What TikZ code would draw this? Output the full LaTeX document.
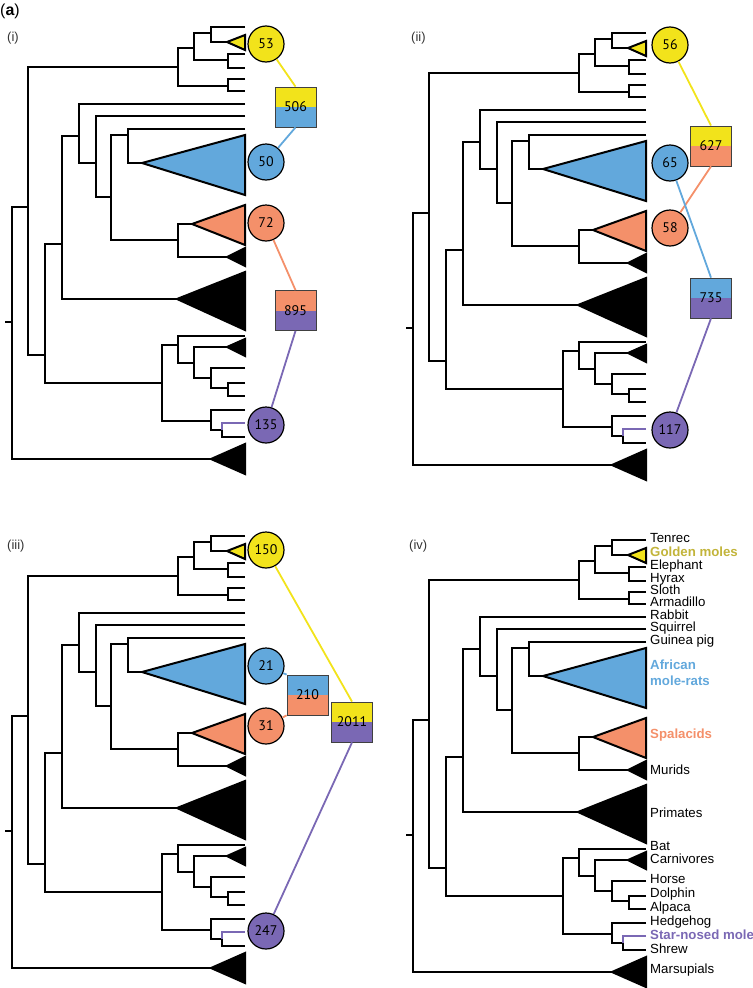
\documentclass[tikz,border=0pt]{standalone}
\usepackage{fontspec}
\setmainfont{Liberation Sans}
\newfontfamily\numfont{PT Sans}
\definecolor{moleyellow}{HTML}{F2E31B}
\definecolor{moleblue}{HTML}{62A8DC}
\definecolor{moleorange}{HTML}{F4906A}
\definecolor{molepurple}{HTML}{7A68B4}
\definecolor{moleolive}{HTML}{C2B43A}

% the same tree is drawn in every panel
\newcommand{\moletree}{%
  % backbone
  \draw[branch] (5,322) -- (12,322);
  \draw[branch] (28,207) -| (12,459) -- (211,459);
  \draw[branch] (178,67) -| (28,355) -- (45,355);
  % afrotheria and xenarthra
  \draw[branch] (194,48) -| (178,86) -- (228,86);
  \draw[branch] (211,33) -| (194,60) -- (228,60);
  \draw[branch] (245,27) -| (211,42) -- (227,42);
  \draw[branch] (245,54) -| (228,68) -- (245,68);
  \draw[branch] (245,79) -| (228,91) -- (245,91);
  % euarchontoglires
  \draw[branch] (62,244) -| (45,383) -- (162,383);
  \draw[branch] (79,136) -| (62,299) -- (177,299);
  \draw[branch] (245,104) -| (79,163) -- (96,163);
  \draw[branch] (245,116) -| (96,197) -- (111,197);
  \draw[branch] (128,135) -| (111,240) -- (178,240);
  \draw[branch] (245,129) -| (128,163) -- (142,163);
  \draw[branch] (192,224) -| (178,257) -- (227,257);
  % laurasiatheria
  \draw[branch] (178,345) -| (162,421) -- (211,421);
  \draw[branch] (245,336) -| (178,363) -- (194,363);
  \draw[branch] (227,347) -| (194,378) -- (211,378);
  \draw[branch] (245,368) -| (211,388) -- (228,388);
  \draw[branch] (245,383) -| (228,396) -- (245,396);
  \draw[branch] (245,410) -| (211,430) -- (222,430);
  \draw[branch] (222,430) |- (245,437);
  \draw[branch, molepurple, line width=1.5bp] (245,423) -| (222,430);
  % collapsed clades
  \draw[clade, fill=moleyellow] (227,42) -- (245,35) -- (245,50) -- cycle;
  \draw[clade, fill=moleblue] (142,163) -- (245,135) -- (245,195) -- cycle;
  \draw[clade, fill=moleorange] (192,224) -- (245,205) -- (245,245) -- cycle;
  \draw[clade, fill=black] (227,257) -- (245,248) -- (245,266) -- cycle;
  \draw[clade, fill=black] (177,299) -- (245,272) -- (245,330) -- cycle;
  \draw[clade, fill=black] (227,347) -- (245,339) -- (245,356) -- cycle;
  \draw[clade, fill=black] (211,459) -- (245,444) -- (245,474) -- cycle;
}

\begin{document}
\begin{tikzpicture}[
    x=1bp, y=-1bp,
    branch/.style={line width=2.2bp},
    clade/.style={line width=2bp, line join=miter},
    num/.style={circle, draw, line width=1.2bp, minimum size=36bp, inner sep=0pt,
                font=\numfont\fontsize{14}{14}\selectfont},
    pair/.style 2 args={draw=black!75, line width=0.8bp, minimum width=41bp,
                minimum height=40bp, inner sep=0pt, font=\numfont\fontsize{14}{14}\selectfont,
                path picture={
                  \fill[#1] (path picture bounding box.north west) rectangle (path picture bounding box.east);
                  \fill[#2] (path picture bounding box.west) rectangle (path picture bounding box.south east);}},
    link/.style={line width=1.8bp},
    tag/.style={anchor=west, inner sep=0pt, text=black!80, font=\fontsize{13}{13}\selectfont},
    tip/.style={anchor=mid west, inner sep=0pt, font=\fontsize{13.3}{16}\selectfont},
    hl/.style={tip, font=\bfseries\fontsize{13.3}{16}\selectfont}
  ]
  \useasboundingbox (0,0) rectangle (753,988);

  \begin{scope}\moletree\end{scope}
  \begin{scope}[shift={(401,6)}]\moletree\end{scope}
  \begin{scope}[shift={(0,509)}]\moletree\end{scope}
  \begin{scope}[shift={(401,513)}]\moletree\end{scope}

  \node[anchor=west, inner sep=0pt, font=\fontsize{16}{16}\selectfont] (lbla) at (0,11) {(\textbf{a})};
  \node[tag] (lbl1) at (7,38) {(i)};
  \node[tag] (lbl2) at (411,38) {(ii)};
  \node[tag] (lbl3) at (7,546) {(iii)};
  \node[tag] (lbl4) at (409,546) {(iv)};

  % (i)
  \node[num, fill=moleyellow] (y53) at (266,44) {53};
  \node[num, fill=moleblue] (b50) at (266,162) {50};
  \node[num, fill=moleorange] (o72) at (266,223) {72};
  \node[num, fill=molepurple] (v135) at (266,425) {135};
  \node[pair={moleyellow}{moleblue}] (p506) at (295.5,107) {506};
  \node[pair={moleorange}{molepurple}] (p895) at (295.5,310.5) {895};
  \draw[link, moleyellow] (y53) -- (p506.north);
  \draw[link, moleblue] (p506.south) -- (b50);
  \draw[link, moleorange] (o72) -- (p895.north);
  \draw[link, molepurple] (p895.south) -- (v135);

  % (ii)
  \node[num, fill=moleyellow] (y56) at (670,45) {56};
  \node[num, fill=moleblue] (b65) at (670,163) {65};
  \node[num, fill=moleorange] (o58) at (670,228) {58};
  \node[num, fill=molepurple] (v117) at (670,430) {117};
  \node[pair={moleyellow}{moleorange}] (p627) at (711,146) {627};
  \node[pair={moleblue}{molepurple}] (p735) at (711,298) {735};
  \draw[link, moleyellow] (y56) -- (p627.north);
  \draw[link, moleorange] (p627.south) -- (o58);
  \draw[link, moleblue] (b65) -- (p735.north);
  \draw[link, molepurple] (p735.south) -- (v117);

  % (iii)
  \node[num, fill=moleyellow] (y150) at (266,550) {150};
  \node[num, fill=moleblue] (b21) at (266,666) {21};
  \node[num, fill=moleorange] (o31) at (266,726) {31};
  \node[num, fill=molepurple] (v247) at (266,931) {247};
  \node[pair={moleblue}{moleorange}] (p210) at (307.5,695) {210};
  \node[pair={moleyellow}{molepurple}] (p2011) at (352,722) {2011};
  \draw[link, moleblue] (b21) -- (p210.north west);
  \draw[link, moleorange] (o31) -- (p210.south west);
  \draw[link, moleyellow] (y150) -- (p2011.north);
  \draw[link, molepurple] (p2011.south) -- (v247);

  % (iv) tip names
  \node[tip] (tenrec) at (650,540) {Tenrec};
  \node[hl, text=moleolive] (golden) at (650,554) {Golden moles};
  \node[tip] (elephant) at (650,567) {Elephant};
  \node[tip] (hyrax) at (650,580) {Hyrax};
  \node[tip] (sloth) at (650,592) {Sloth};
  \node[tip] (armadillo) at (650,604) {Armadillo};
  \node[tip] (rabbit) at (650,617) {Rabbit};
  \node[tip] (squirrel) at (650,629) {Squirrel};
  \node[tip] (guinea) at (650,642) {Guinea pig};
  \node[hl, anchor=west, align=left, text=moleblue] (amr) at (650,673) {African\\mole-rats};
  \node[hl, text=moleorange] (spalax) at (650,736) {Spalacids};
  \node[tip] (murids) at (650,772) {Murids};
  \node[tip] (primates) at (650,815) {Primates};
  \node[tip] (bat) at (650,848) {Bat};
  \node[tip] (carnivores) at (650,861) {Carnivores};
  \node[tip] (horse) at (650,881) {Horse};
  \node[tip] (dolphin) at (650,895) {Dolphin};
  \node[tip] (alpaca) at (650,909) {Alpaca};
  \node[tip] (hedgehog) at (650,923) {Hedgehog};
  \node[hl, text=molepurple] (starnose) at (650,937) {Star-nosed mole};
  \node[tip] (shrew) at (650,951) {Shrew};
  \node[tip] (marsupials) at (650,971) {Marsupials};
\end{tikzpicture}
\end{document}
